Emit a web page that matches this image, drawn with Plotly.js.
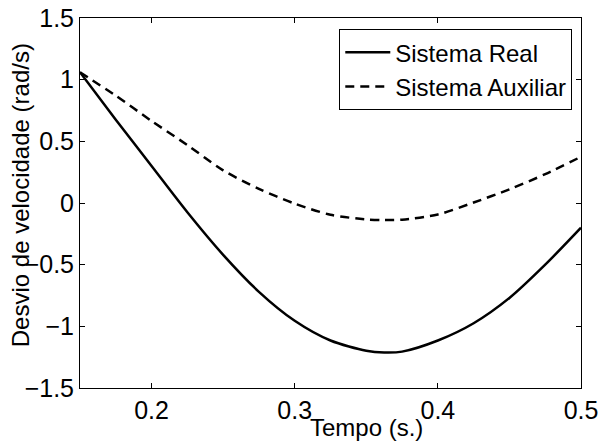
<!DOCTYPE html>
<html>
<head>
<meta charset="utf-8">
<script src="https://cdn.plot.ly/plotly-3.0.1.min.js"></script>
<style>html,body{margin:0;padding:0;background:#fff;}#chart{width:599px;height:441px;}</style>
</head>
<body>
<div id="chart"></div>
<script>
const tempo = [0.15, 0.175, 0.2, 0.225, 0.25, 0.275, 0.3, 0.325, 0.35, 0.3625, 0.375, 0.4, 0.425, 0.45, 0.475, 0.5];
const sistemaReal = [1.06, 0.675, 0.30, -0.075, -0.42, -0.72, -0.955, -1.115, -1.198, -1.212, -1.205, -1.115, -0.975, -0.77, -0.50, -0.20];
const sistemaAuxiliar = [1.06, 0.87, 0.665, 0.47, 0.265, 0.115, -0.005, -0.095, -0.133, -0.138, -0.135, -0.093, 0.004, 0.111, 0.234, 0.375];
const xTicks = [0.2, 0.3, 0.4, 0.5];
const yTicks = [-1.5, -1, -0.5, 0, 0.5, 1, 1.5];
const seriesNames = ['Sistema Real', 'Sistema Auxiliar'];
const xLabel = 'Tempo (s.)';
const yLabel = 'Desvio de velocidade (rad/s)';

const fam = 'Liberation Sans, Arial, Helvetica, sans-serif';
const font = {family: fam, size: 25, color: '#000'};
const legendFont = {family: fam, size: 24, color: '#000'};
const titleFont = {family: fam, size: 24, color: '#000'};

const traces = [
  {x: tempo, y: sistemaReal, name: seriesNames[0], mode: 'lines', line: {color: '#000', width: 2.5, shape: 'spline', smoothing: 0.8}},
  {x: tempo, y: sistemaAuxiliar, name: seriesNames[1], mode: 'lines', line: {color: '#000', width: 2.5, dash: '9px,6px', shape: 'spline', smoothing: 0.8}}
];

const axisCommon = {
  showgrid: false, zeroline: false, showline: true, mirror: 'ticks',
  linecolor: '#000', linewidth: 1, ticks: 'inside', ticklen: 5, tickcolor: '#000',
  tickfont: font
};

const layout = {
  width: 599, height: 441,
  margin: {l: 80, r: 18, t: 18, b: 53},
  paper_bgcolor: '#fff', plot_bgcolor: '#fff',
  font: font,
  showlegend: true,
  legend: {x: 0.9826, y: 0.970, xanchor: 'right', yanchor: 'top', bgcolor: '#fff', bordercolor: '#000', borderwidth: 1, font: legendFont, tracegroupgap: 0, itemwidth: 45},
  xaxis: Object.assign({}, axisCommon, {range: [0.15, 0.5], tickvals: xTicks, ticktext: xTicks.map(String)}),
  yaxis: Object.assign({}, axisCommon, {range: [-1.5, 1.5], tickvals: yTicks}),
  annotations: [
    {text: xLabel, xref: 'paper', yref: 'paper', x: 0.571, y: -0.065, xanchor: 'center', yanchor: 'top', showarrow: false, font: titleFont},
    {text: yLabel, xref: 'paper', yref: 'paper', x: -0.119, y: 0.522, xanchor: 'center', yanchor: 'middle', textangle: -90, showarrow: false, font: titleFont}
  ]
};

Plotly.newPlot('chart', traces, layout, {staticPlot: true, displayModeBar: false});
</script>
</body>
</html>
